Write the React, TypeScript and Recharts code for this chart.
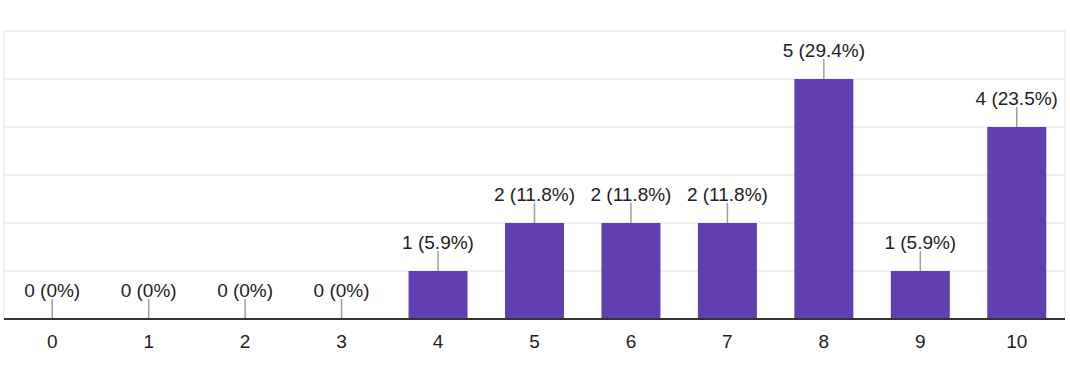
import React from 'react';
import { BarChart, Bar, XAxis, YAxis, CartesianGrid } from 'recharts';

const categories = ['0', '1', '2', '3', '4', '5', '6', '7', '8', '9', '10'];
const counts = [0, 0, 0, 0, 1, 2, 2, 2, 5, 1, 4];
const yTicks = [0, 1, 2, 3, 4, 5, 6];

const total = counts.reduce((a, b) => a + b, 0);
const data = categories.map((name, i) => ({ name, count: counts[i] }));

const FONT = '"Liberation Sans", Arial, Helvetica, sans-serif';
const BAR_COLOR = '#623fb0';

const formatLabel = (v: number) => {
    if (v === 0) return '0 (0%)';
    const pct = Math.round((v / total) * 1000) / 10;
    return `${v} (${pct}%)`;
};

// bar + leader line + label drawn together so zero bars keep their label
const LabelledBar = (props: any) => {
    const { x, y, width, height, payload } = props;
    const cx = Number(x) + Number(width) / 2;
    const h = Math.max(0, Number(height) || 0);
    const top = Number(y);
    return (
        <g>
            {h > 0 && <rect x={x} y={top} width={width} height={h} fill={BAR_COLOR} />}
            <line x1={cx} x2={cx} y1={top - 20} y2={top} stroke="#9e9e9e" strokeWidth={1.5} />
            <text
                x={cx}
                y={top - 22}
                textAnchor="middle"
                fill="#222"
                fontSize={19}
                fontFamily={FONT}
            >
                {formatLabel(Number(payload.count))}
            </text>
        </g>
    );
};

const App = () => {
    return (
        <div style={{ position: 'absolute', left: 0, top: 0, background: '#fff' }}>
            <BarChart
                width={1070}
                height={369}
                data={data}
                margin={{ top: 31, right: 5, left: 4, bottom: 0 }}
                barCategoryGap="19.4%"
            >
                <CartesianGrid
                    stroke="#ebebeb"
                    strokeWidth={1.5}
                    verticalCoordinatesGenerator={({ offset }: any) => [offset.left, offset.left + offset.width]}
                />
                <YAxis hide domain={[0, 6]} ticks={yTicks} />
                <Bar dataKey="count" fill={BAR_COLOR} isAnimationActive={false} shape={<LabelledBar />} />
                <XAxis
                    dataKey="name"
                    height={50}
                    axisLine={{ stroke: '#333', strokeWidth: 2 }}
                    tickLine={false}
                    tickSize={6}
                    tickMargin={10}
                    tick={{ fill: '#222', fontSize: 19, fontFamily: FONT }}
                    interval={0}
                />
            </BarChart>
        </div>
    );
};

export default App;
